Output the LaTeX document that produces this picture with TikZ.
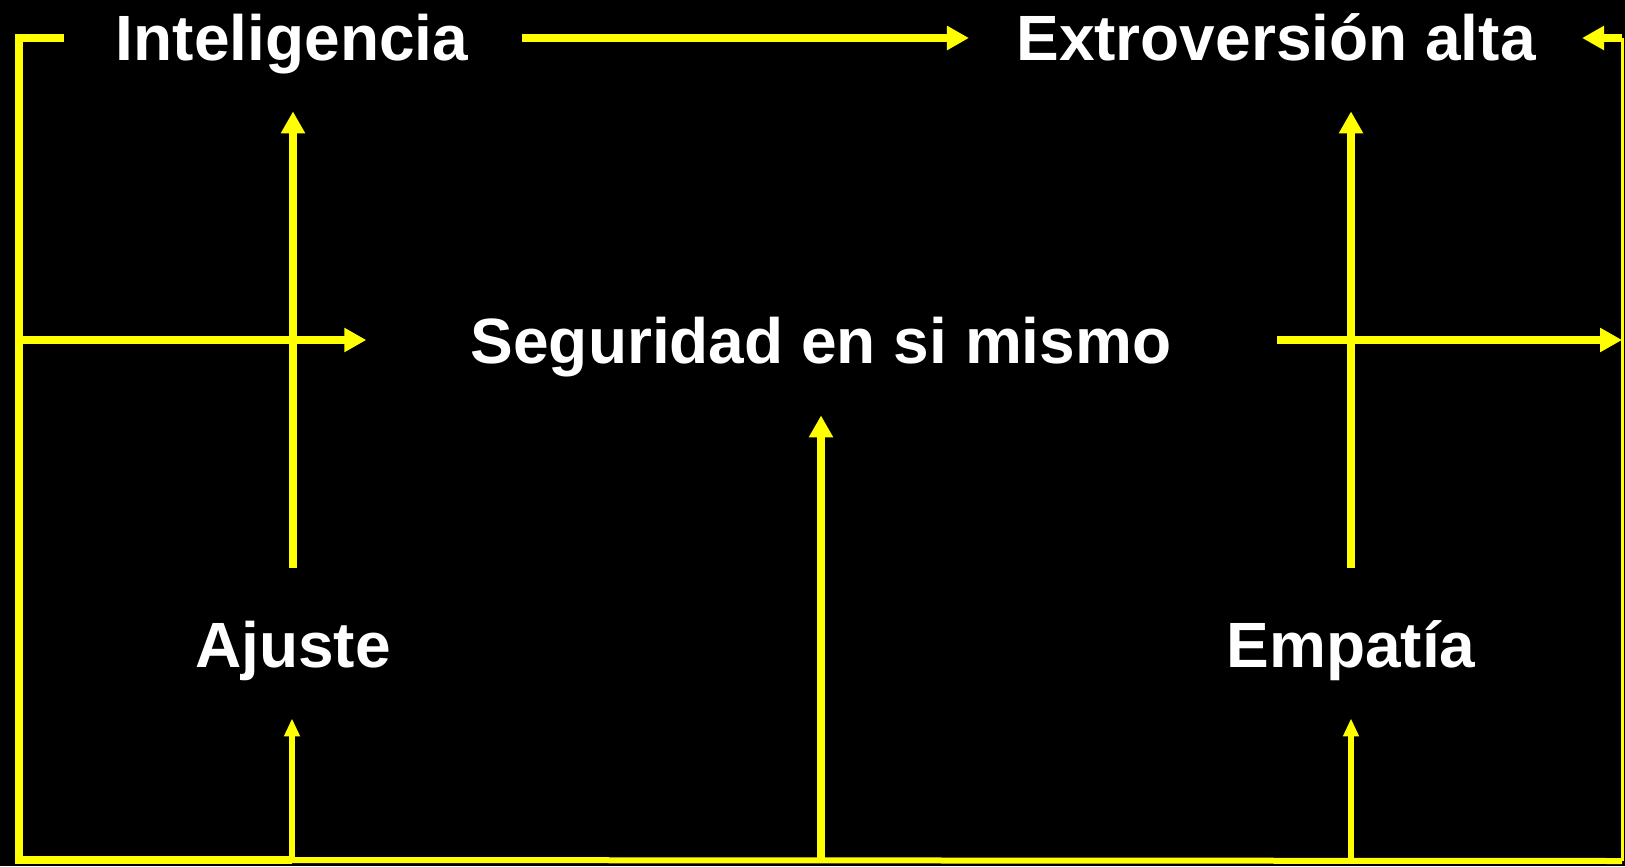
\documentclass[tikz,border=0pt]{standalone}
\usepackage{fontspec}
\setmainfont{Liberation Sans}
\usetikzlibrary{arrows.meta}

\begin{document}
\begin{tikzpicture}[x=0.5pt,y=-0.5pt,
	txt/.style={text=white,font=\bfseries\fontsize{32}{38}\selectfont,
		text height=23pt,text depth=0pt,inner sep=0pt},
	ln/.style={color=gelb,line width=4pt},
	arr/.style={ln,-{Triangle[length=11pt,width=11.5pt]}},
	arrs/.style={color=gelb,line width=2.75pt,-{Triangle[length=9pt,width=7.5pt]}}]

\definecolor{gelb}{rgb}{1,1,0}

\useasboundingbox[fill=black] (0,0) rectangle (1625,866);

\node[txt] (int) at (292,38) {Inteligencia};
\node[txt] (ext) at (1276,38) {Extroversión alta};
\node[txt] (seg) at (821,340) {Seguridad en si mismo};
\node[txt] (aju) at (293,644) {Ajuste};
\node[txt] (emp) at (1351,644) {Empatía};

\coordinate (ul) at (19,860);
\coordinate (ua) at (292,860);
\coordinate (us) at (821,861);
\coordinate (ur) at (1622,861);

% linke Schleife
\draw[ln] ([xshift=-26pt]int.west) -| (ul) -- (ua);
\draw[arrs,shorten >=25.5pt] (ua) -- (ua |- aju.south);
\draw[arr,shorten >=52pt] (ul |- seg) -- (seg.west);

% oben und senkrecht
\draw[arr,shorten <=27pt,shorten >=23.5pt] (int.east) -- (ext.west);
\draw[arr,shorten <=26.5pt,shorten >=25pt] (aju.north) -- (aju.north |- int.south);
\draw[arr,shorten <=26.5pt,shorten >=25pt] (emp.north) -- (emp.north |- ext.south);

% unten
\draw[color=gelb,line width=3pt] (ua) -- (ur);
\draw[arr,shorten >=26pt] (us) -- (seg.south);
\draw[arrs,shorten >=25.5pt] (emp.south |- ur) -- (emp.south);

% rechts
\draw[color=gelb,line width=1.5pt] (ur) -- (ur |- ext);
\draw[arr,shorten >=23pt] (ur |- ext) -- (ext.east);
\draw[arr,shorten <=52.5pt] (seg.east) -- (ur |- seg);

\end{tikzpicture}
\end{document}
